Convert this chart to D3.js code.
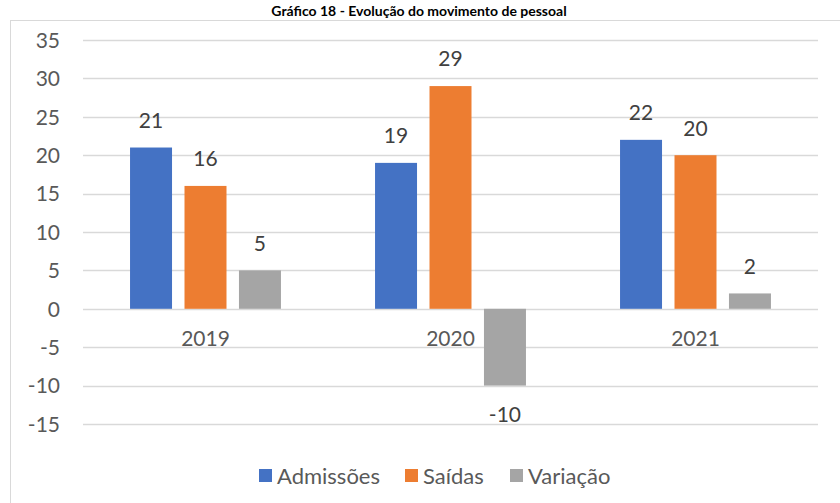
<!DOCTYPE html>
<html><head><meta charset="utf-8">
<script src="https://cdn.jsdelivr.net/npm/d3@7"></script>
<style>body{margin:0;background:#fff}svg{display:block}text{font-family:Lato,"Open Sans",sans-serif}</style>
</head><body>
<script>
const title = "Gráfico 18 - Evolução do movimento de pessoal";
const years = ["2019", "2020", "2021"];
const seriesNames = ["Admissões", "Saídas", "Variação"];
const admissoes = [21, 19, 22];
const saidas = [16, 29, 20];
const variacao = [5, -10, 2];
const yTicks = [-15, -10, -5, 0, 5, 10, 15, 20, 25, 30, 35];
const colors = ["#4472C4", "#ED7D31", "#A5A5A5"];

const W = 840, H = 503;
const svg = d3.select("body").append("svg").attr("width", W).attr("height", H);

// title
svg.append("text").attr("x", 419).attr("y", 16).attr("text-anchor", "middle")
  .attr("font-weight", "bold").attr("font-size", 14).attr("fill", "#000").text(title);

// chart border
svg.append("rect").attr("x", 10.5).attr("y", 20.5).attr("width", 840).attr("height", 500)
  .attr("fill", "none").attr("stroke", "#D9D9D9");

const y = d3.scaleLinear().domain([-15, 35]).range([424, 40]);
const x0 = d3.scaleBand().domain(years).range([83, 818]).paddingInner(0.384).paddingOuter(0.192);
const x1 = d3.scaleBand().domain(seriesNames).range([0, x0.bandwidth()]).paddingInner(0.229).paddingOuter(0);

// gridlines
svg.append("g").selectAll("line").data(yTicks).join("line")
  .attr("x1", 83).attr("x2", 818)
  .attr("y1", d => Math.round(y(d)) + 0.5).attr("y2", d => Math.round(y(d)) + 0.5)
  .attr("stroke", "#D9D9D9").attr("stroke-width", 1.3);

// y axis labels
const yAxis = d3.axisLeft(y).tickValues(yTicks).tickSize(0).tickPadding(0).tickFormat(d => String(d));
const ga = svg.append("g").attr("transform", "translate(60,0)").call(yAxis);
ga.select(".domain").remove();
ga.selectAll("text").attr("font-size", 21).attr("fill", "#595959").attr("font-family", "Lato, sans-serif").attr("dy", "0.35em");

const data = years.map((yr, i) => ({year: yr, vals: [admissoes[i], saidas[i], variacao[i]]}));

const groups = svg.append("g").selectAll("g").data(data).join("g")
  .attr("transform", d => `translate(${x0(d.year)},0)`);

groups.selectAll("rect").data(d => d.vals.map((v, j) => ({v, s: seriesNames[j], j}))).join("rect")
  .attr("x", d => x1(d.s)).attr("width", x1.bandwidth())
  .attr("y", d => y(Math.max(0, d.v))).attr("height", d => Math.abs(y(d.v) - y(0)))
  .attr("fill", d => colors[d.j]);

groups.selectAll("text.lbl").data(d => d.vals.map((v, j) => ({v, s: seriesNames[j], j}))).join("text")
  .attr("class", "lbl")
  .attr("x", d => x1(d.s) + x1.bandwidth() / 2)
  .attr("y", d => d.v >= 0 ? y(d.v) - 27 : y(d.v) + 29)
  .attr("dy", "0.35em").attr("text-anchor", "middle")
  .attr("font-size", 21).attr("fill", "#404040").text(d => String(d.v));

// category labels at zero line
svg.append("g").selectAll("text").data(years).join("text")
  .attr("x", d => x0(d) + x0.bandwidth() / 2).attr("y", y(0) + 30).attr("dy", "0.35em")
  .attr("text-anchor", "middle").attr("font-size", 21).attr("fill", "#595959").text(d => d);

// legend
const legX = [259, 405, 510];
const lg = svg.append("g").selectAll("g").data(seriesNames).join("g")
  .attr("transform", (d, i) => `translate(${legX[i]},469)`);
lg.append("rect").attr("width", 13).attr("height", 13).attr("fill", (d, i) => colors[i]);
lg.append("text").attr("x", 18).attr("y", 7).attr("dy", "0.35em")
  .attr("font-size", 22).attr("fill", "#595959").text(d => d);
</script>
</body></html>
